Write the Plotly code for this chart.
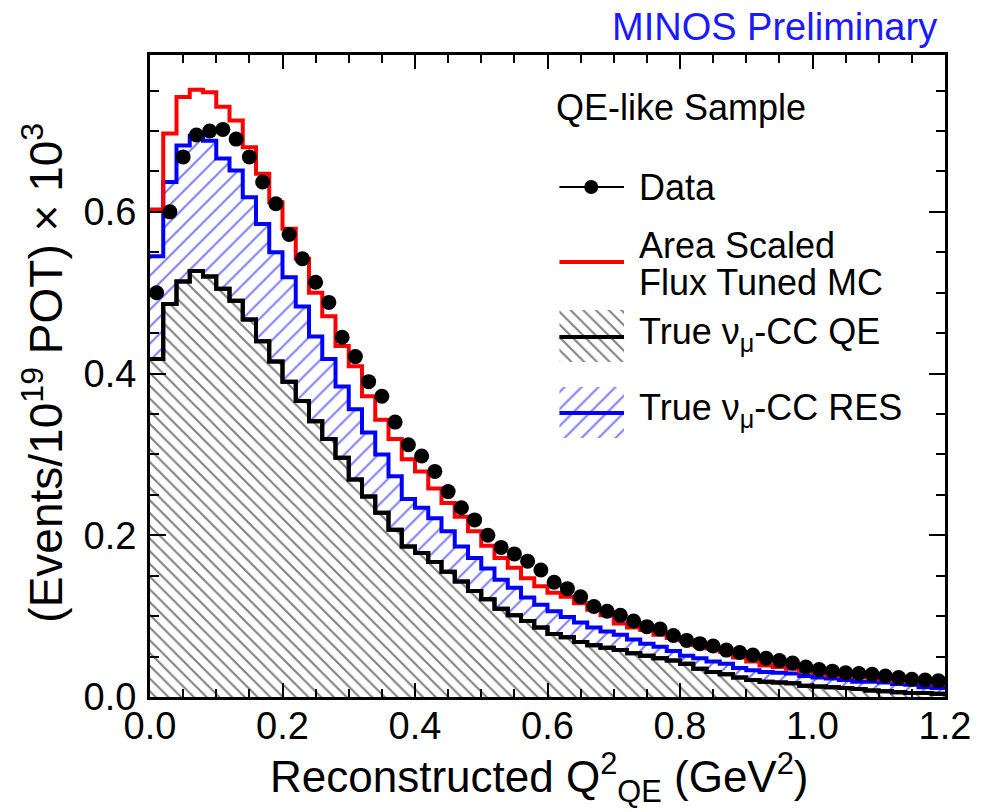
import plotly.graph_objects as go

# ---------------- data ----------------
n_bins = 60
bin_width = 0.02
q2_edges = [round(i * bin_width, 2) for i in range(n_bins + 1)]
q2_centers = [round((i + 0.5) * bin_width, 3) for i in range(n_bins)]

data_vals = [0.500, 0.600, 0.668, 0.695, 0.700, 0.702, 0.690, 0.668, 0.637, 0.610,
             0.572, 0.542, 0.513, 0.488, 0.445, 0.421, 0.390, 0.372, 0.340, 0.312,
             0.298, 0.279, 0.254, 0.234, 0.219, 0.200, 0.185, 0.177, 0.168, 0.157,
             0.142, 0.134, 0.124, 0.112, 0.106, 0.101, 0.094, 0.087, 0.084, 0.076,
             0.070, 0.066, 0.063, 0.058, 0.055, 0.052, 0.048, 0.045, 0.042, 0.037,
             0.034, 0.032, 0.030, 0.029, 0.028, 0.026, 0.024, 0.022, 0.021, 0.020]

mc_total = [0.603, 0.697, 0.742, 0.751, 0.748, 0.730, 0.713, 0.680, 0.647, 0.612,
            0.579, 0.542, 0.500, 0.471, 0.434, 0.409, 0.372, 0.343, 0.319, 0.294,
            0.279, 0.258, 0.240, 0.223, 0.205, 0.187, 0.172, 0.160, 0.147, 0.137,
            0.129, 0.124, 0.116, 0.108, 0.101, 0.091, 0.086, 0.083, 0.077, 0.073,
            0.070, 0.064, 0.060, 0.056, 0.049, 0.044, 0.039, 0.037, 0.035, 0.032,
            0.030, 0.027, 0.026, 0.025, 0.024, 0.022, 0.020, 0.019, 0.018, 0.016]

qe_plus_res = [0.545, 0.637, 0.682, 0.694, 0.688, 0.666, 0.651, 0.618, 0.585, 0.550,
               0.519, 0.483, 0.446, 0.418, 0.384, 0.356, 0.327, 0.300, 0.273, 0.245,
               0.234, 0.221, 0.205, 0.186, 0.172, 0.159, 0.145, 0.135, 0.123, 0.114,
               0.106, 0.099, 0.092, 0.086, 0.081, 0.077, 0.071, 0.066, 0.062, 0.057,
               0.051, 0.048, 0.044, 0.041, 0.036, 0.033, 0.031, 0.030, 0.029, 0.026,
               0.024, 0.023, 0.021, 0.019, 0.019, 0.018, 0.016, 0.015, 0.012, 0.011]

qe_vals = [0.418, 0.486, 0.514, 0.527, 0.520, 0.505, 0.490, 0.467, 0.440, 0.415,
           0.390, 0.366, 0.341, 0.319, 0.296, 0.269, 0.248, 0.228, 0.207, 0.186,
           0.178, 0.167, 0.155, 0.143, 0.131, 0.121, 0.109, 0.101, 0.094, 0.086,
           0.078, 0.074, 0.068, 0.064, 0.061, 0.058, 0.054, 0.051, 0.048, 0.045,
           0.041, 0.035, 0.031, 0.028, 0.024, 0.021, 0.019, 0.018, 0.017, 0.014,
           0.013, 0.012, 0.011, 0.010, 0.008, 0.007, 0.006, 0.005, 0.005, 0.004]

x_ticks = [0.0, 0.2, 0.4, 0.6, 0.8, 1.0, 1.2]
y_ticks = [0.0, 0.2, 0.4, 0.6]

# ---------------- styling ----------------
FONT = "Liberation Sans, Arial, Helvetica, sans-serif"
RED = "#ff0000"
BLUE = "#0000ff"
HIST_W = 4
W, H = 983, 812
ML, MR, MT, MB = 150, 33, 55, 115
PW, PH = W - ML - MR, H - MT - MB


def step_y(vals):
    return list(vals) + [vals[-1]]


def px2paper(px, py):
    return (px - ML) / PW, (H - MB - py) / PH


fig = go.Figure()

# QE (hatched black)
fig.add_trace(go.Scatter(
    x=q2_edges, y=step_y(qe_vals), mode="lines", line_shape="hv",
    line=dict(color="black", width=HIST_W), fill="tozeroy",
    fillcolor="rgba(0,0,0,0)",
    fillpattern=dict(shape="\\", fgcolor="black", bgcolor="white", size=9, solidity=0.22),
    hoverinfo="skip"))

# RES stacked on QE (hatched blue)
fig.add_trace(go.Scatter(
    x=q2_edges, y=step_y(qe_plus_res), mode="lines", line_shape="hv",
    line=dict(color=BLUE, width=HIST_W), fill="tonexty",
    fillcolor="rgba(0,0,0,0)",
    fillpattern=dict(shape="/", fgcolor=BLUE, bgcolor="white", size=12, solidity=0.17),
    hoverinfo="skip"))

# redraw QE outline on top
fig.add_trace(go.Scatter(
    x=q2_edges, y=step_y(qe_vals), mode="lines", line_shape="hv",
    line=dict(color="black", width=HIST_W), hoverinfo="skip"))

# MC total
fig.add_trace(go.Scatter(
    x=q2_edges, y=step_y(mc_total), mode="lines", line_shape="hv",
    line=dict(color=RED, width=HIST_W), hoverinfo="skip"))

# Data
fig.add_trace(go.Scatter(
    x=q2_centers, y=data_vals, mode="markers",
    marker=dict(symbol="circle", size=15, color="black"),
    hoverinfo="skip"))

# ---------------- legend (drawn on a pixel overlay) ----------------
LX0, LX1 = 562, 627
leg_traces = [
    dict(x=[LX0, LX1], y=[187, 187], mode="lines", line=dict(color="black", width=2)),
    dict(x=[594], y=[187], mode="markers", marker=dict(size=14, color="black")),
    dict(x=[LX0, LX1], y=[262, 262], mode="lines", line=dict(color=RED, width=HIST_W)),
]
for t in leg_traces:
    fig.add_trace(go.Scatter(xaxis="x2", yaxis="y2", hoverinfo="skip", cliponaxis=False, **t))

for (ytop, ybot, ymid, shp, col, sz, sol) in [
        (310, 362, 337, "\\", "black", 9, 0.22),
        (387, 438, 413, "/", BLUE, 12, 0.17)]:
    fig.add_trace(go.Scatter(
        x=[LX0, LX1, LX1, LX0, LX0], y=[ytop, ytop, ybot, ybot, ytop],
        xaxis="x2", yaxis="y2", mode="lines", fill="toself",
        fillcolor="rgba(0,0,0,0)", line=dict(width=0, color="rgba(0,0,0,0)"),
        fillpattern=dict(shape=shp, fgcolor=col, bgcolor="white", size=sz, solidity=sol),
        hoverinfo="skip"))
    fig.add_trace(go.Scatter(
        x=[LX0, LX1], y=[ymid, ymid], xaxis="x2", yaxis="y2", mode="lines",
        line=dict(color=col, width=HIST_W), hoverinfo="skip"))

LEG_FS = 36
annos = [
    dict(px=557, py=108, text="QE-like Sample", xanchor="left", font=dict(size=LEG_FS)),
    dict(px=640, py=187, text="Data", xanchor="left", font=dict(size=LEG_FS)),
    dict(px=640, py=245, text="Area Scaled", xanchor="left", font=dict(size=LEG_FS)),
    dict(px=640, py=282, text="Flux Tuned MC", xanchor="left", font=dict(size=LEG_FS)),
    dict(px=640, py=334, text="True ν<sub>μ</sub>-CC QE", xanchor="left", font=dict(size=LEG_FS)),
    dict(px=640, py=410, text="True ν<sub>μ</sub>-CC RES", xanchor="left", font=dict(size=LEG_FS)),
    dict(px=944, py=27, text="MINOS Preliminary", xanchor="right", font=dict(size=38, color="#1a1aff")),
    dict(px=542, py=777, text="Reconstructed Q<sup>2</sup><sub>QE</sub> (GeV<sup>2</sup>)",
         xanchor="center", font=dict(size=44)),
    dict(px=42, py=373, text="(Events/10<sup>19</sup> POT) × 10<sup>3</sup>", textangle=-90,
         xanchor="center", font=dict(size=46)),
]
for a in annos:
    px = a.pop("px")
    py = a.pop("py")
    xp, yp = px2paper(px, py)
    fig.add_annotation(xref="paper", yref="paper", x=xp, y=yp, showarrow=False,
                       yanchor="middle", **a)

axis_common = dict(
    showline=True, linewidth=3, linecolor="black", mirror="ticks",
    ticks="inside", tickwidth=2, tickcolor="black",
    showgrid=False, zeroline=False, tickformat=".1f",
    tickfont=dict(size=38, color="black"),
)

fig.update_layout(
    width=W, height=H,
    margin=dict(l=ML, r=MR, t=MT, b=MB),
    paper_bgcolor="white", plot_bgcolor="white",
    showlegend=False,
    font=dict(family=FONT, color="black"),
    xaxis=dict(range=[0, 1.2], tickvals=x_ticks, ticklen=14,
               minor=dict(dtick=0.05, tick0=0, ticklen=8, tickwidth=2, ticks="inside", tickcolor="black"),
               ticklabelstandoff=-7, **axis_common),
    yaxis=dict(range=[0, 0.794], tickvals=y_ticks, ticklen=16,
               minor=dict(dtick=0.05, tick0=0, ticklen=9, tickwidth=2, ticks="inside", tickcolor="black"),
               ticklabelstandoff=3, **axis_common),
    xaxis2=dict(overlaying="x", range=[ML, ML + PW], visible=False, fixedrange=True),
    yaxis2=dict(overlaying="y", range=[H - MB, MT], visible=False, fixedrange=True),
)

fig.write_html("out.html")
